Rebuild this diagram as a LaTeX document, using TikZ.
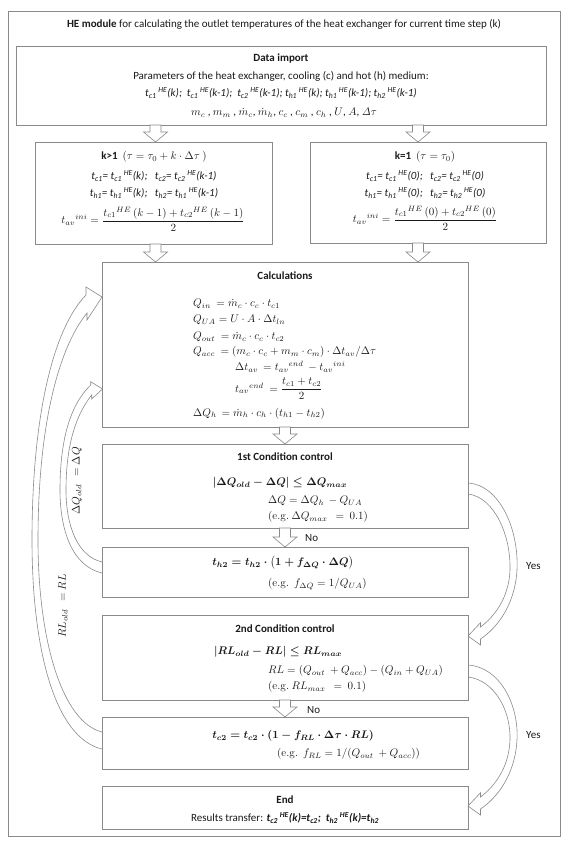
\documentclass[tikz,border=0pt]{standalone}
\usepackage{fix-cm}
\usepackage{amsmath}
\usepackage[no-math]{fontspec}
\setmainfont{Carlito}
\usetikzlibrary{calc}
\definecolor{linegray}{HTML}{8A8A8A}
\definecolor{txtc}{HTML}{1A1A1A}
\newcommand{\tsb}[1]{t\textsubscript{#1}}
\newcommand{\he}{\,\textsuperscript{HE}}
\newcommand{\md}{\overset{\raisebox{-2.2pt}{$\textstyle .$}}{m}}
\newcommand{\condA}{\mbox{\boldmath$\lvert\Delta Q_{old}-\Delta Q\rvert\le \Delta Q_{max}$}}
\newcommand{\condB}{\mbox{\boldmath$\lvert RL_{old}-RL\rvert\le RL_{max}$}}
\newcommand{\updA}{\mbox{\boldmath$t_{h2} = t_{h2}\cdot \big(1+f_{\Delta Q}\cdot\Delta Q\big)$}}
\newcommand{\updB}{\mbox{\boldmath$t_{c2} = t_{c2}\cdot (1-f_{RL}\cdot\Delta\tau\cdot RL)$}}
\newcommand{\blockarr}[2]{%
  \draw[blockarrow] let \p1=(#1), \p2=(#2) in
    (\x1-5.5pt,\y1) -- (\x1-5.5pt,\y2+10pt) -- (\x1-12pt,\y2+10pt) -- (\x1,\y2)
    -- (\x1+12pt,\y2+10pt) -- (\x1+5.5pt,\y2+10pt) -- (\x1+5.5pt,\y1) -- cycle;}
\tikzset{
  box/.style={draw=linegray, line width=0.8pt, anchor=north west, inner sep=0pt, outer sep=0pt},
  blockarrow/.style={draw=linegray, fill=white, line width=0.6pt, line join=miter},
  curvarr/.style={draw=linegray, line width=0.6pt, line join=miter},
  txt/.style={inner sep=0pt, text=txtc, font=\fontsize{11}{13}\selectfont},
  lt/.style={txt, anchor=west},
}
\begin{document}
\begin{tikzpicture}[x=1pt, y=-1pt]
\useasboundingbox (0,0) rectangle (569,846);
% boxes
\node[box, minimum width=552pt, minimum height=825pt] (outer) at (8,11) {};
\node[box, minimum width=530pt, minimum height=79pt] (data) at (16,46) {};
\node[box, minimum width=237pt, minimum height=102pt] (k1) at (35,142) {};
\node[box, minimum width=236pt, minimum height=101pt] (kone) at (310,142) {};
\node[box, minimum width=366pt, minimum height=165pt] (calc) at (102,262) {};
\node[box, minimum width=366pt, minimum height=84pt] (cond1) at (102,444) {};
\node[box, minimum width=366pt, minimum height=50pt] (th2) at (102,547) {};
\node[box, minimum width=366pt, minimum height=85pt] (cond2) at (102,615) {};
\node[box, minimum width=366pt, minimum height=52pt] (tc2) at (102,717) {};
\node[box, minimum width=366pt, minimum height=43pt] (endb) at (102,786) {};

% title
\node[txt] (title) at (284,24) {\textbf{HE module} for calculating the outlet temperatures of the heat exchanger for current time step (k)};

% data import
\node[txt] (dh) at (281,59) {\textbf{Data import}};
\node[txt] (d1) at (281,76) {Parameters of the heat exchanger, cooling (c) and hot (h) medium:};
\node[txt] (d2) at (281,93) {\itshape \tsb{c1}\he(k);\ \ \tsb{c1}\he(k-1);\ \ \tsb{c2}\he(k-1); \tsb{h1}\he(k); \tsb{h1}\he(k-1); \tsb{h2}\he(k-1)};
\node[txt] (d3) at (284,112) {$m_c$ , $m_m$ , $\md_c$, $\md_h$, $c_c$ , $c_m$ , $c_h$ , $U$, $A$, $\mathit{\Delta}\tau$};

% k>1
\node[txt] (k1a) at (154,157) {\textbf{k>1}\ \ $(\tau = \tau_0 + k\cdot\Delta\tau\ )$};
\node[txt] (k1b) at (154,176) {\itshape \tsb{c1}= \tsb{c1}\he(k);\ \ \ \tsb{c2}= \tsb{c2}\he(k-1)};
\node[txt] (k1c) at (154,193) {\itshape \tsb{h1}= \tsb{h1}\he(k);\ \ \ \tsb{h2}= \tsb{h1}\he(k-1)};
\node[txt] (k1d) at (153,219) {$t_{av}{}^{ini} = \dfrac{t_{c1}{}^{HE}\,(k-1)+t_{c2}{}^{HE}\,(k-1)}{2}$};

% k=1
\node[txt] (k2a) at (425,157) {\textbf{k=1}\ \ $(\tau = \tau_0)$};
\node[txt] (k2b) at (425,176) {\itshape \tsb{c1}= \tsb{c1}\he(0);\ \ \ \tsb{c2}= \tsb{c2}\he(0)};
\node[txt] (k2c) at (425,193) {\itshape \tsb{h1}= \tsb{h1}\he(0);\ \ \ \tsb{h2}= \tsb{h2}\he(0)};
\node[txt] (k2d) at (425,218) {$t_{av}{}^{ini} = \dfrac{t_{c1}{}^{HE}\,(0)+t_{c2}{}^{HE}\,(0)}{2}$};

% calculations
\node[txt] (ch) at (285,276) {\textbf{Calculations}};
\node[lt] (c1) at (193,303) {$Q_{in}\ = \md_c\cdot c_c\cdot t_{c1}$};
\node[lt] (c2) at (193,320) {$Q_{UA} = U\cdot A\cdot \Delta t_{ln}$};
\node[lt] (c3) at (193,336) {$Q_{out}\ = \md_c\cdot c_c\cdot t_{c2}$};
\node[lt] (c4) at (193,352) {$Q_{acc}\ = (m_c\cdot c_c + m_m\cdot c_m)\cdot \Delta t_{av}/\Delta\tau$};
\node[lt] (c5) at (235,367) {$\Delta t_{av}\, = t_{av}{}^{end}\ - t_{av}{}^{ini}$};
\node[lt] (c6) at (235,389) {$t_{av}{}^{end}\ = \dfrac{t_{c1}+t_{c2}}{2}$};
\node[lt] (c7) at (193,413) {$\Delta Q_h\, = \md_h\cdot c_h\cdot (t_{h1}-t_{h2})$};

% 1st condition
\node[txt] (q1h) at (285,457) {\textbf{1st Condition control}};
\node[txt] (q1a) at (280,483) {\condA};
\node[lt] (q1b) at (268,501) {$\Delta Q = \Delta Q_h\, - Q_{UA}$};
\node[lt] (q1c) at (268,517) {$(\mathrm{e.g.}\ \Delta Q_{max}\ \ =\ 0.1)$};

% th2 update
\node[txt] (ua) at (283,563) {\updA};
\node[lt] (ub) at (268,584) {$(\mathrm{e.g.}\ \ f_{\Delta Q} = 1/Q_{UA})$};

% 2nd condition
\node[txt] (q2h) at (285,629) {\textbf{2nd Condition control}};
\node[txt] (q2a) at (278,652) {\condB};
\node[lt] (q2b) at (268,671) {$RL = (Q_{out}\ + Q_{acc}) - (Q_{in} + Q_{UA})$};
\node[lt] (q2c) at (268,687) {$(\mathrm{e.g.}\ RL_{max}\ \ =\ 0.1)$};

% tc2 update
\node[txt] (va) at (293,736) {\updB};
\node[lt] (vb) at (277,754) {$(\mathrm{e.g.}\ \ f_{RL} = 1/(Q_{out}\ + Q_{acc}))$};

% end
\node[txt] (eh) at (285,800) {\textbf{End}};
\node[txt] (eb) at (285,818) {Results transfer: \textbf{\itshape \tsb{c2}\he(k)=\tsb{c2};\ \ \tsb{h2}\he(k)=\tsb{h2}}};

% block arrows
\blockarr{[xshift=2pt]k1.north |- data.south}{[xshift=2pt]k1.north}
\blockarr{[xshift=-10pt]kone.north |- data.south}{[xshift=-10pt]kone.north}
\blockarr{[xshift=2pt]k1.south}{[xshift=2pt]k1.south |- calc.north}
\blockarr{[xshift=-10pt]kone.south}{[xshift=-10pt]kone.south |- calc.north}
\blockarr{calc.south}{cond1.north}
\blockarr{cond1.south}{th2.north}
\blockarr{cond2.south}{tc2.north}

\node[txt, anchor=west] (no1) at (305,538) {No};
\node[txt, anchor=west] (no2) at (307,710) {No};
\node[txt, anchor=west] (yes1) at (526,566) {Yes};
\node[txt, anchor=west] (yes2) at (526,735) {Yes};

% curved arrows: Yes 1
\coordinate (y1o) at ($(cond1.north east)+(0,39)$);
\coordinate (y1i) at ($(cond1.north east)+(0,50)$);
\coordinate (y1h) at ($(cond2.north east)+(0,21)$);
\draw[curvarr] (y1o) .. controls (500,485) and (519,530) .. (517,570)
  .. controls (515,605) and (497,628) .. ($(y1h)+(12.5,3)$)
  -- ($(y1h)+(12.5,9)$) -- (y1h) -- ($(y1h)+(12.5,-13.3)$) -- ($(y1h)+(12.5,-9)$)
  .. controls (494,617) and (509,598) .. (510,570)
  .. controls (511,535) and (494,497) .. (y1i);
% Yes 2
\coordinate (y2o) at ($(cond2.north east)+(0,50)$);
\coordinate (y2i) at ($(cond2.north east)+(0,62)$);
\coordinate (y2h) at ($(endb.north east)+(0,20)$);
\draw[curvarr] (y2o) .. controls (500,667) and (519,705) .. (517,740)
  .. controls (515,775) and (497,798) .. ($(y2h)+(12.5,3)$)
  -- ($(y2h)+(12.5,9)$) -- (y2h) -- ($(y2h)+(12.5,-13.3)$) -- ($(y2h)+(12.5,-9)$)
  .. controls (494,787) and (509,768) .. (510,740)
  .. controls (511,710) and (494,680) .. (y2i);
% Delta Q feedback
\coordinate (fqo) at ($(th2.north west)+(0,26)$);
\coordinate (fqi) at ($(th2.north west)+(0,15)$);
\coordinate (fqh) at ($(calc.north west)+(0.5,127)$);
\draw[curvarr] (fqo) .. controls (72,566) and (60,530) .. (60,490)
  .. controls (60,440) and (70,405) .. ($(fqh)+(-11.8,-4)$)
  -- ($(fqh)+(-11.8,-7.3)$) -- (fqh) -- ($(fqh)+(-10.8,10)$) -- ($(fqh)+(-10.8,6)$)
  .. controls (75,416) and (66,447) .. (66,490)
  .. controls (66,525) and (77,556) .. (fqi);
% RL feedback
\coordinate (fro) at ($(tc2.north west)+(0,32)$);
\coordinate (fri) at ($(tc2.north west)+(0,15)$);
\coordinate (frh) at ($(calc.north west)+(0,35)$);
\draw[curvarr] (fro) .. controls (55,738) and (32,650) .. (32,540)
  .. controls (32,420) and (52,330) .. ($(frh)+(-16,-2)$)
  -- ($(frh)+(-16,-10)$) -- (frh) -- ($(frh)+(-15,23)$) -- ($(frh)+(-15,16)$)
  .. controls (57,350) and (38,430) .. (38,540)
  .. controls (38,640) and (62,722) .. (fri);

\node[txt, rotate=90] (lq) at (77,481) {$\Delta Q_{old}\ \ = \Delta Q$};
\node[txt, rotate=90] (lr) at (63,606) {$RL_{old}\ \ = RL$};
\end{tikzpicture}
\end{document}
